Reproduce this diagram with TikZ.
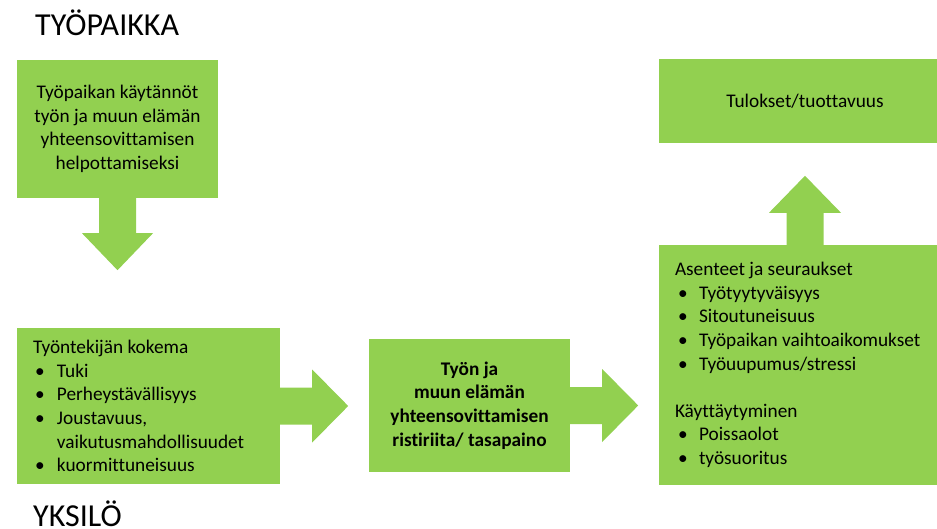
\documentclass[tikz,border=0pt]{standalone}
\usepackage{fontspec}
\setmainfont{Carlito}[Ligatures=CommonOff]
\usetikzlibrary{calc}
\definecolor{boxgreen}{HTML}{92D050}
\newcommand{\bitemA}[1]{\hspace*{2pt}\makebox[22pt][l]{•}#1}
\newcommand{\bitemB}[1]{\hspace*{3pt}\makebox[21pt][l]{•}#1}
\begin{document}
\begin{tikzpicture}[x=1pt,y=-1pt,
  gbox/.style={fill=boxgreen, draw=none, inner ysep=0pt, font=\fontsize{19.3}{23.6}\selectfont},
  lbox/.style={gbox, inner xsep=16pt, align=left},
  cbox/.style={gbox, inner xsep=4pt, align=center},
  garrow/.style={fill=boxgreen, draw=none},
  title/.style={font=\fontsize{32}{36}\selectfont, inner sep=0pt, anchor=base west}
]
\useasboundingbox (0,0) rectangle (937,529);

\node[title] (tw) at (35,36) {TYÖPAIKKA};
\node[title] (ty) at (33,526) {YKSILÖ};

\node[cbox, minimum width=201pt, minimum height=138pt] (b1) at (117.5,129)
  {Työpaikan käytännöt\\työn ja muun elämän\\yhteensovittamisen\\helpottamiseksi};

\node[lbox, text width=231pt, minimum height=156pt] (b2) at (148.5,406)
  {\spaceskip=0pt\xspaceskip=0pt\relax Työntekijän kokema\\
   \bitemA{Tuki}\\
   \bitemA{Perheystävällisyys}\\
   \bitemA{Joustavuus,}\\
   \hspace*{24pt}vaikutusmahdollisuudet\\
   \bitemA{kuormittuneisuus}};

\node[cbox, minimum width=201pt, minimum height=133pt, font=\fontsize{19.3}{23.6}\selectfont\bfseries] (b3) at (469.5,405.5)
  {Työn ja\\muun elämän\\yhteensovittamisen\\ristiriita/ tasapaino};

\node[cbox, minimum width=292pt, minimum height=84pt] (b4) at (805,101)
  {Tulokset/tuottavuus};

\node[lbox, text width=260pt, minimum height=240pt] (b5) at (805,365)
  {\spaceskip=0pt\xspaceskip=0pt\relax Asenteet ja seuraukset\\
   \bitemB{Työtyytyväisyys}\\
   \bitemB{Sitoutuneisuus}\\
   \bitemB{Työpaikan vaihtoaikomukset}\\
   \bitemB{Työuupumus/stressi}\\[23.6pt]
   Käyttäytyminen\\
   \bitemB{Poissaolot}\\
   \bitemB{työsuoritus}};

% down arrow b1 -> b2
\fill[garrow] ($(b1.south)+(-18.5,0)$) -- ++(0,35) -- ++(-17,0) -- ($(b1.south)+(0,72)$)
  -- ($(b1.south)+(35.5,35)$) -- ++(-17,0) -- ($(b1.south)+(18.5,0)$) -- cycle;
% right arrow b2 -> b3
\fill[garrow] ($(b2.east)+(0,-18.5)$) -- ++(32,0) -- ++(0,-18) -- ($(b2.east)+(68,0)$)
  -- ($(b2.east)+(32,36.5)$) -- ++(0,-18) -- ($(b2.east)+(0,18.5)$) -- cycle;
% right arrow b3 -> b5
\fill[garrow] ($(b3.east)+(0,-18.5)$) -- ++(32,0) -- ++(0,-18) -- ($(b3.east)+(68,0)$)
  -- ($(b3.east)+(32,36.5)$) -- ++(0,-18) -- ($(b3.east)+(0,18.5)$) -- cycle;
% up arrow b5 -> b4
\fill[garrow] ($(b5.north)+(-18.5,0)$) -- ++(0,-32) -- ++(-17.5,0) -- ($(b5.north)+(0,-69)$)
  -- ($(b5.north)+(36,-32)$) -- ++(-17.5,0) -- ($(b5.north)+(18.5,0)$) -- cycle;
\end{tikzpicture}
\end{document}
